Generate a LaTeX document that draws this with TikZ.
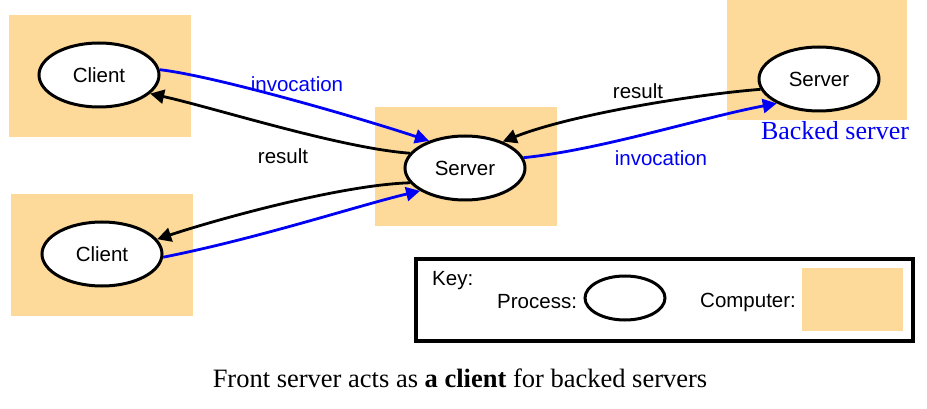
\documentclass[tikz,border=0pt]{standalone}
\usepackage{fontspec}
\setmainfont{Liberation Sans}
\newfontfamily\capfont{Liberation Serif}
\usetikzlibrary{shapes.geometric,arrows.meta}
\definecolor{peach}{RGB}{253,218,153}
\definecolor{linkblue}{RGB}{0,0,245}
\begin{document}
\begin{tikzpicture}[x=1pt,y=-1pt,
  computer/.style={fill=peach,draw=none},
  process/.style={ellipse,draw=black,line width=3pt,fill=white,minimum width=120pt,minimum height=64pt,inner sep=0pt,font=\fontsize{20.5}{24}\selectfont},
  inv/.style={draw=linkblue,line width=2.8pt,-{Triangle[length=14pt,width=14pt]}},
  res/.style={draw=black,line width=2.8pt,-{Triangle[length=14pt,width=14pt]}},
  lbl/.style={font=\fontsize{20.5}{24}\selectfont,inner sep=0pt}]
\useasboundingbox (0,0) rectangle (927,409);
% computers
\fill[computer] (9,15) rectangle (191,137);
\fill[computer] (11,194) rectangle (193,316);
\fill[computer] (375,107) rectangle (557,226);
\fill[computer] (727,0) rectangle (907,120);
% processes
\node[process] (c1) at (99,75) {Client};
\node[process] (c2) at (102,254) {Client};
\node[process] (s1) at (465,168) {Server};
\node[process] (s2) at (819,79) {Server};
\node[font=\capfont\fontsize{26}{30}\selectfont,text=linkblue,inner sep=0pt] (bs) at (835,131) {Backed server};
% connectors
\draw[inv] (c1.5) .. controls (215,76) and (360,118) .. (s1.143);
\draw[res] (s1.165) .. controls (340,148) and (215,108) .. (c1.-20);
\draw[res] (s1.195) .. controls (340,185) and (215,220) .. (c2.15);
\draw[inv] (c2.-3) .. controls (260,238) and (360,205) .. (s1.207);
\draw[res] (s2.190) .. controls (690,95) and (570,115) .. (s1.35);
\draw[inv] (s1.10) .. controls (600,150) and (700,118) .. (s2.210);
% labels
\node[lbl,text=linkblue] (l1) at (297,84) {invocation};
\node[lbl] (l2) at (283,156) {result};
\node[lbl] (l3) at (638,91) {result};
\node[lbl,text=linkblue] (l4) at (661,158) {invocation};
% key
\node[draw=black,line width=3.5pt,minimum width=497pt,minimum height=82pt,inner sep=0pt] (key) at (664.5,300) {};
\node[lbl,anchor=west] (k1) at (432,281) {Key:};
\node[lbl,anchor=west] (k2) at (497,302) {Process:};
\node[ellipse,draw=black,line width=3pt,minimum width=80pt,minimum height=44pt,inner sep=0pt] (ke) at (625,298) {};
\node[lbl,anchor=west] (k3) at (700,302) {Computer:};
\fill[computer] (802,268) rectangle (903,331);
% caption
\node[font=\capfont\fontsize{26.5}{30}\selectfont,inner sep=0pt] (cap) at (460,378) {Front server acts as \textbf{a client} for backed servers};
\end{tikzpicture}
\end{document}
